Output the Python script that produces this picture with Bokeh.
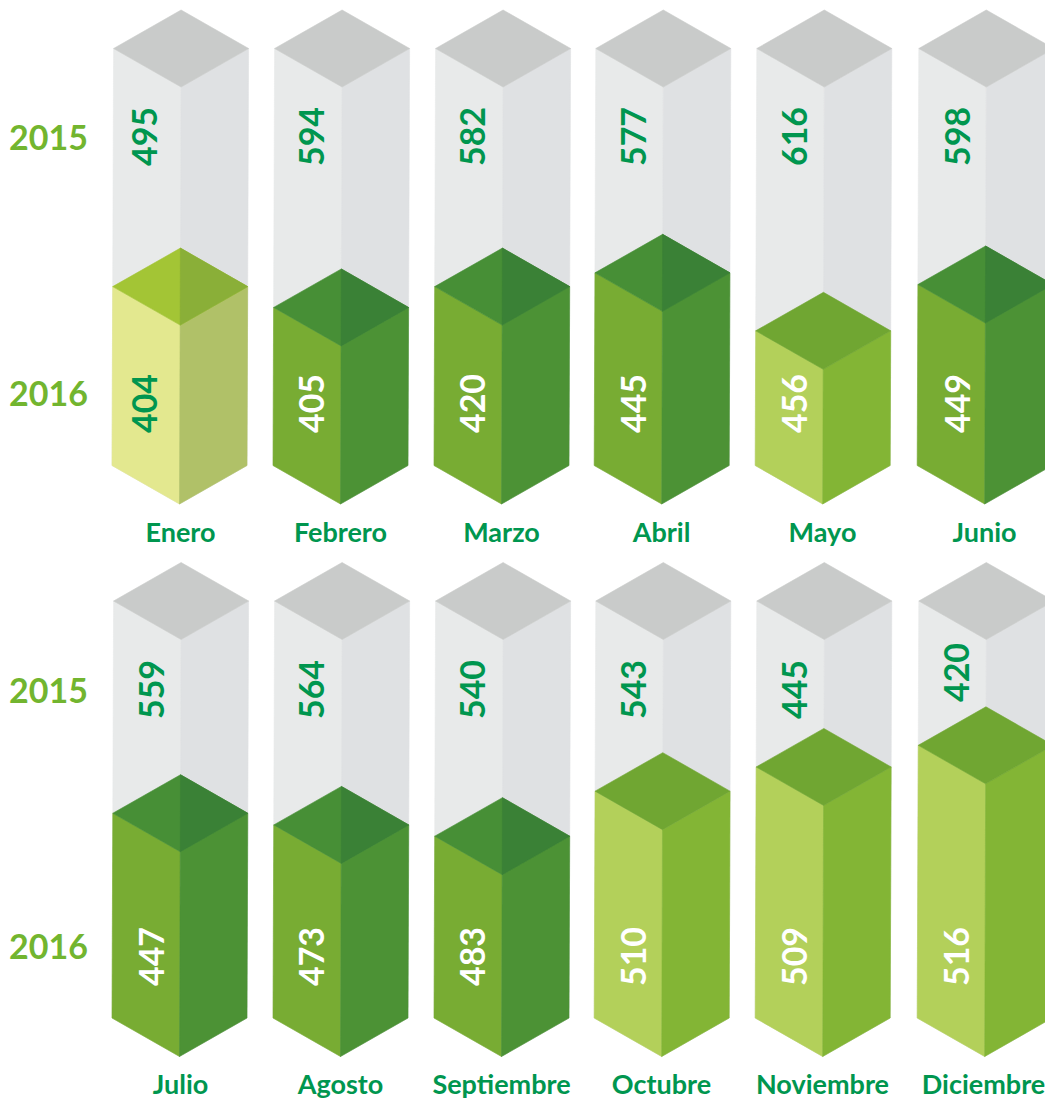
from bokeh.plotting import figure
from bokeh.models import ColumnDataSource, Range1d
from bokeh.core.properties import value
from bokeh.embed import file_html
from bokeh.resources import INLINE
import math

# ---- data ----
months = ["Enero", "Febrero", "Marzo", "Abril", "Mayo", "Junio",
          "Julio", "Agosto", "Septiembre", "Octubre", "Noviembre", "Diciembre"]
values_2015 = [495, 594, 582, 577, 616, 598, 559, 564, 540, 543, 445, 420]
values_2016 = [404, 405, 420, 445, 456, 449, 447, 473, 483, 510, 509, 516]
# filled share of every column (percent), as drawn in the picture
fill_share = [42.9, 37.9, 42.9, 46.2, 32.3, 43.4, 49.1, 46.3, 43.6, 54.4, 60.2, 65.4]
# colour class of the 2016 block
fill_class = ["pale", "dark", "dark", "dark", "light", "dark",
              "dark", "dark", "dark", "light", "light", "light"]
year_labels = ["2015", "2016"]

# ---- style / layout ----
PALETTE = {
    "pale":  dict(front="#E3E88F", side="#B0C168", top_l="#A3C535", top_r="#8AAF38", num="#00964F"),
    "dark":  dict(front="#78AC33", side="#4C9235", top_l="#478F36", top_r="#3A8136", num="#FFFFFF"),
    "light": dict(front="#B3D05A", side="#83B535", top_l="#70A632", top_r="#70A632", num="#FFFFFF"),
}
GRAY = dict(front="#E8EAEA", side="#DFE1E3", top="#C9CBCA")
NUM_GREEN = "#00964F"
YEAR_GREEN = "#72B52F"
centers = [180.6, 341.6, 502.6, 662.8, 823.8, 985.8]
num_dx = [-36.6, -30.6, -30.6, -29.8, -29.8, -28.8, -29.6, -30.6, -30.6, -29.8, -29.8, -29.8]
HW = 67.5          # half width of a column
DY = 38.5          # half height of a diamond
COL_H = 417        # column height
row_top = [48, 600.5]   # y of the left corner of the gray top
SKEW = 1.6         # how far the base leans left


def px(cx, side, y, top, base):
    """x of a vertical edge at height y; the columns lean slightly."""
    return cx + side - SKEW * (y - top) / (base - top)


gray_faces, fill_faces = dict(xs=[], ys=[], c=[]), dict(xs=[], ys=[], c=[])


def add(store, xs, ys, c):
    store["xs"].append(xs)
    store["ys"].append(ys)
    store["c"].append(c)


num_x, num_y, num_t, num_c = [], [], [], []
lab_x, lab_y, lab_t = [], [], []
for i, m in enumerate(months):
    r, col = divmod(i, 6)
    cx = centers[col]
    top = row_top[r]
    base = top + COL_H
    # gray column
    add(gray_faces, [cx - HW, cx, px(cx, 0, base + DY, top, base + DY), px(cx, -HW, base, top, base)],
        [top, top + DY, base + DY, base], GRAY["front"])
    add(gray_faces, [cx, cx + HW, px(cx, HW, base, top, base), px(cx, 0, base + DY, top, base + DY)],
        [top + DY, top, base, base + DY], GRAY["side"])
    add(gray_faces, [cx - HW, cx, cx + HW, cx], [top, top - DY, top, top + DY], GRAY["top"])
    # 2016 block
    pal = PALETTE[fill_class[i]]
    lvl = base - fill_share[i] / 100 * COL_H
    fx = lambda s, y, b=base: px(cx, s, y, top, b)
    xl, xr = fx(-HW, lvl), fx(HW, lvl)
    xc = fx(0, lvl + DY, base + DY)
    xa = fx(0, lvl - DY, base + DY)
    add(fill_faces, [xl, xc, fx(0, base + DY, base + DY), fx(-HW, base)],
        [lvl, lvl + DY, base + DY, base], pal["front"])
    add(fill_faces, [xc, xr, fx(HW, base), fx(0, base + DY, base + DY)],
        [lvl + DY, lvl, base, base + DY], pal["side"])
    add(fill_faces, [xl, xa, xr, xc], [lvl, lvl - DY, lvl, lvl + DY], pal["top_l"])
    if pal["top_r"] != pal["top_l"]:
        add(fill_faces, [xa, xr, xc], [lvl - DY, lvl, lvl + DY], pal["top_r"])
    # numbers
    ny = 136 + r * 553
    if i == 11:
        ny -= 17
    num_x.append(cx + num_dx[i]); num_y.append(ny); num_t.append(str(values_2015[i])); num_c.append(NUM_GREEN)
    num_x.append(cx + num_dx[i]); num_y.append(403 + r * 553); num_t.append(str(values_2016[i])); num_c.append(pal["num"])
    # month label
    lab_x.append(round(cx) - 1 - (0 if col < 1 else 1) - (1 if i == 11 else 0))
    lab_y.append(531 + r * 551.5)
    lab_t.append(m)

p = figure(width=1045, height=1099, output_backend="svg", toolbar_location=None,
           x_range=Range1d(0, 1045), y_range=Range1d(1099, 0),
           min_border=0, outline_line_color=None, background_fill_color="white")
p.axis.visible = False
p.xaxis.visible = False
p.yaxis.visible = False
p.grid.visible = False

p.patches("xs", "ys", source=ColumnDataSource(gray_faces), fill_color="c", line_color="c", line_width=0.6)
p.patches("xs", "ys", source=ColumnDataSource(fill_faces), fill_color="c", line_color="c", line_width=0.6)

p.text(num_x, num_y, text=num_t, text_color=num_c, angle=math.pi / 2,
       text_font=value("Lato"), text_font_size="34px", text_font_style="bold",
       text_align="center", text_baseline="middle")
p.text(lab_x, lab_y, text=lab_t, text_color=NUM_GREEN,
       text_font=value("Lato"), text_font_size="27px", text_font_style="bold",
       text_align="center", text_baseline="middle")

yr_x, yr_y, yr_t = [], [], []
for r, base_y in enumerate([0, 553]):
    for j, lab in enumerate(year_labels):
        yr_x.append(48)
        yr_y.append((137 if j == 0 else 393) + base_y)
        yr_t.append(lab)
p.text(yr_x, yr_y, text=yr_t, text_color=YEAR_GREEN,
       text_font=value("Lato"), text_font_size="34px", text_font_style="bold",
       text_align="center", text_baseline="middle")

open("out.html", "w").write(file_html(p, INLINE))
